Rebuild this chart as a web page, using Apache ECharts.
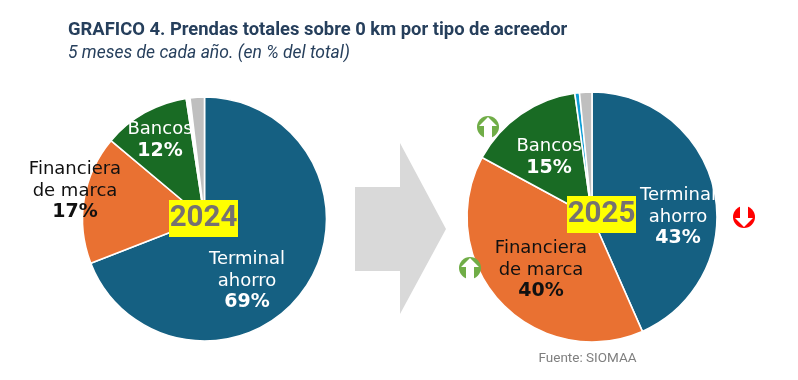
<!DOCTYPE html>
<html><head><meta charset="utf-8">
<style>html,body{margin:0;padding:0;background:#fff}#c{width:798px;height:380px}</style>
<script src="https://cdn.jsdelivr.net/npm/echarts@6/dist/echarts.min.js"></script>
</head><body><div id="c"></div>
<script>
const categories = ['Terminal\nahorro', 'Financiera\nde marca', 'Bancos', 'Otros', 'Resto'];
const values2024 = [69.1, 17.0, 11.5, 0.5, 1.9];
const values2025 = [43.4, 39.5, 14.9, 0.6, 1.6];
const shown2024 = ['69%', '17%', '12%', '', ''];
const shown2025 = ['43%', '40%', '15%', '', ''];
const colors2024 = ['#156082', '#E97132', '#196B24', '#FFFFFF', '#BFBFBF'];
const colors2025 = ['#156082', '#E97132', '#196B24', '#0F9ED5', '#BFBFBF'];
const textColors = ['#ffffff', '#111111', '#ffffff'];

const sans = 'DejaVu Sans';
function pie(values, shown, colors, center, radius, spots) {
  return {
    type: 'pie', center, radius, startAngle: 90, clockwise: true, silent: true, animation: false,
    minAngle: 0, avoidLabelOverlap: false,
    itemStyle: { borderColor: '#fff', borderWidth: 1.6 },
    labelLine: { show: false },
    data: values.map((v, i) => ({
      name: categories[i], value: v,
      itemStyle: { color: colors[i] },
      label: shown[i] ? {
        show: true, position: 'inside', formatter: categories[i] + '\n{b|' + shown[i] + '}',
        color: textColors[i], fontFamily: sans, fontSize: 18, lineHeight: 21.5, align: 'center',
        rich: { b: { fontFamily: sans, fontWeight: 'bold', fontSize: 19, lineHeight: 21.5, color: textColors[i], align: 'center' } }
      } : { show: false }
    })),
    labelLayout: p => {
      const s = spots[p.dataIndex];
      return s ? { x: s[0], y: s[1], align: 'center', verticalAlign: 'middle', hideOverlap: false } : {};
    }
  };
}
function badge(cx, cy, color, up) {
  const s = up ? 1 : -1;
  return [
    { type: 'circle', shape: { cx, cy, r: 11 }, style: { fill: color }, z: 20 },
    { type: 'polygon', z: 21, shape: { points: [
      [cx - 4, cy + s * 11], [cx - 4, cy - s * 1], [cx - 9, cy - s * 1], [cx, cy - s * 10],
      [cx + 9, cy - s * 1], [cx + 4, cy - s * 1], [cx + 4, cy + s * 11]] }, style: { fill: '#fff' } }
  ];
}
function yearTag(x, y, text) {
  return [
    { type: 'rect', shape: { x, y, width: 69, height: 37 }, style: { fill: '#FFFF00' }, z: 30 },
    { type: 'text', z: 31, x: x + 34.5, y: y + 19, style: { text, fill: '#767171', font: 'bold 29.5px Roboto', align: 'center', verticalAlign: 'middle' } }
  ];
}
const chart = echarts.init(document.getElementById('c'), null, { renderer: 'canvas' });
chart.setOption({
  animation: false,
  backgroundColor: '#fff',
  title: {
    left: 68, top: 20, padding: 0, text: 'GRAFICO 4. Prendas totales sobre 0 km por tipo de acreedor',
    subtext: '5 meses de cada año. (en % del total)', itemGap: 4,
    textStyle: { fontFamily: 'Roboto', fontWeight: 'bold', fontSize: 18.4, color: '#263F5C', lineHeight: 20 },
    subtextStyle: { fontFamily: 'Roboto', fontStyle: 'italic', fontSize: 17.5, color: '#263F5C', lineHeight: 20 }
  },
  series: [
    pie(values2024, shown2024, colors2024, [204.5, 219], 122, [[247, 281], [75, 191], [160, 140]]),
    pie(values2025, shown2025, colors2025, [592, 217], 125, [[678, 217], [541, 270], [549, 157]])
  ],
  graphic: { elements: [
    { type: 'polygon', z: 1, shape: { points: [[355, 187], [400, 187], [400, 143], [446, 229], [400, 314], [400, 271], [355, 271]] }, style: { fill: '#D9D9D9' } },
    ...yearTag(169, 200, '2024'), ...yearTag(567, 196, '2025'),
    ...badge(488, 127, '#70AD47', true), ...badge(470, 268, '#70AD47', true), ...badge(744, 217, '#FF0000', false),
    { type: 'text', z: 10, x: 587.5, y: 359, style: { text: 'Fuente: SIOMAA', fill: '#7F7F7F', font: '13.5px Roboto', align: 'center', verticalAlign: 'middle' } }
  ] }
});
</script></body></html>
